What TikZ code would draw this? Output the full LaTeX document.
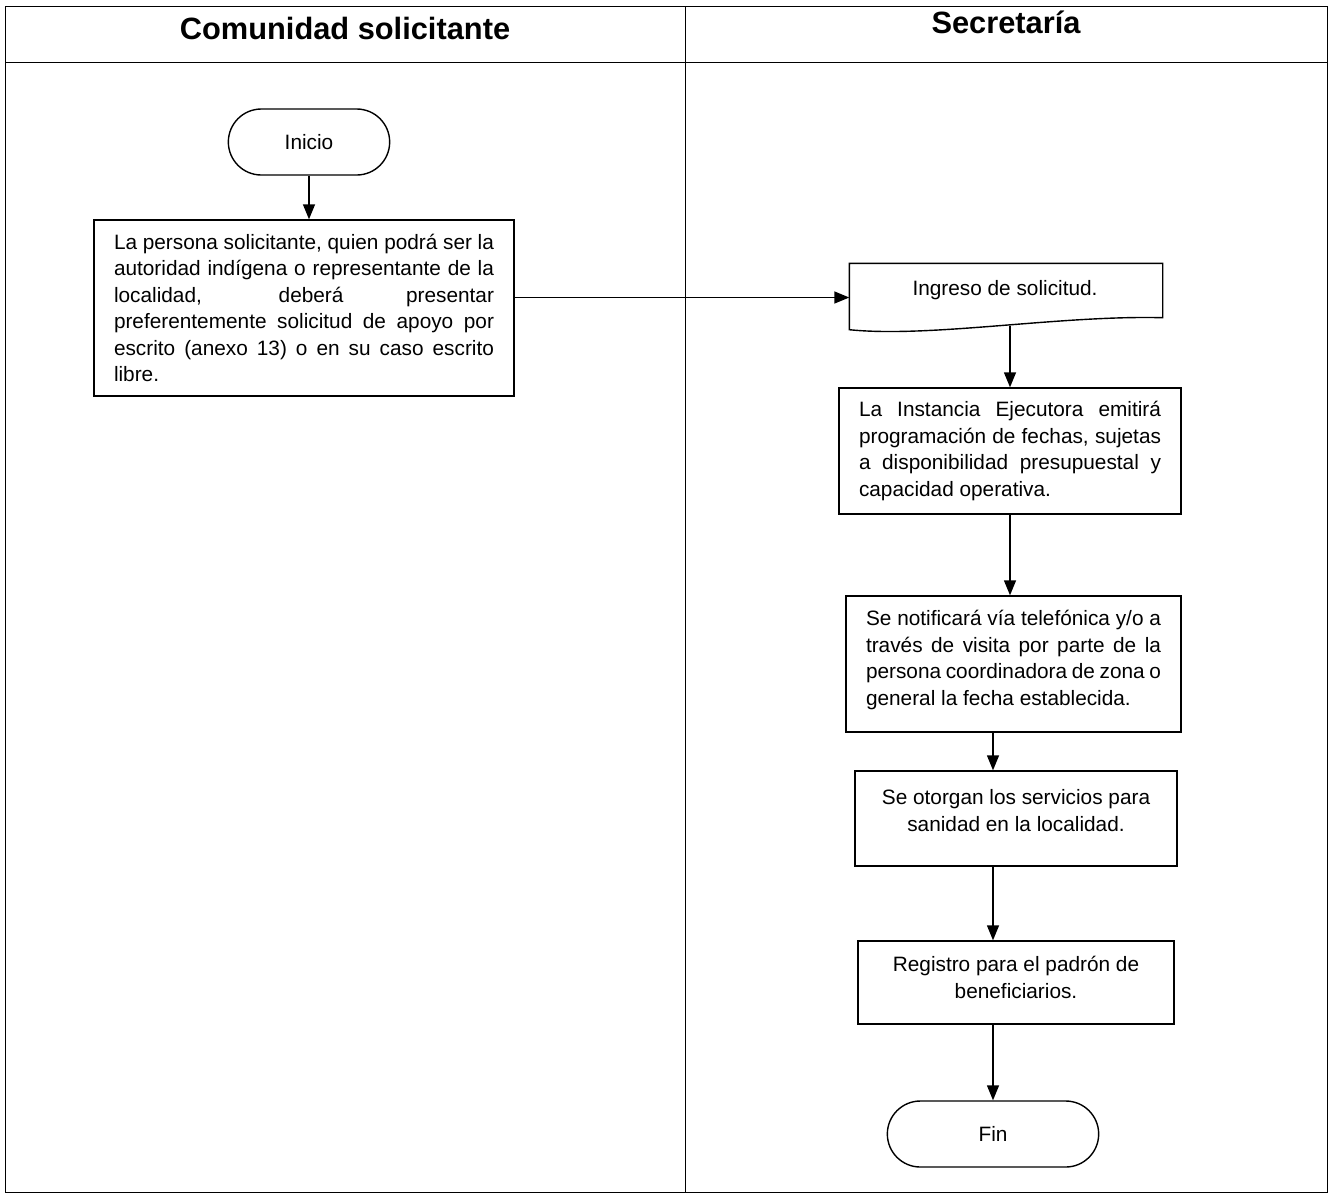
\documentclass[tikz,border=0pt]{standalone}
\usepackage{fontspec}
\setmainfont{Liberation Sans}
\usetikzlibrary{arrows.meta,shapes.misc,positioning}
\hbadness=10000

\begin{document}
\begin{tikzpicture}[x=1pt,y=-1pt,->,>={Triangle[length=15pt,width=12pt]},
                    line width=1.4pt,
                    every node/.style={font=\fontsize{20.8}{26.4}\selectfont},
                    box/.style={draw,rectangle,inner xsep=20pt,inner ysep=0pt,align=justify},
                    lane/.style={font=\fontsize{30.8}{32}\bfseries}]
  \tikzstyle{term}=[draw,rounded rectangle,minimum height=66pt]

  \useasboundingbox (0,0) rectangle (1330,1195);

  % carriles
  \draw[-,line width=1pt] (5,6) rectangle (1327,1192);
  \draw[-,line width=1pt] (5,62) -- (1327,62);
  \draw[-,line width=1pt] (685,6) -- (685,1192);
  \node[lane] (l_1) at (345,28) {Comunidad solicitante};
  \node[lane] (l_2) at (1006,22) {Secretaría};

  \node[term,minimum width=168pt] (ini) at (309,142) {Inicio};
  \node[box,text width=380pt,minimum height=176pt] (p_1) at (304,308)
    {La persona solicitante, quien podrá ser la\linebreak
     autoridad indígena o representante de la\linebreak
     localidad, deberá presentar\linebreak
     preferentemente solicitud de apoyo por\linebreak
     escrito (anexo 13) o en su caso escrito\linebreak
     libre.};

  % documento
  \node[minimum width=312pt,minimum height=67pt,inner sep=0pt] (doc) at (1006,297.5) {};
  \node (doc_t) at (1005,290) {Ingreso de solicitud.};
  \draw[-,line join=miter] ([yshift=2pt]doc.south west) -- (doc.north west) -- (doc.north east)
           -- ([yshift=14pt]doc.south east)
           .. controls (1060,315) and (930,338) .. ([yshift=2pt]doc.south west) -- cycle;

  \node[box,text width=302pt,minimum height=126pt] (p_2) at (1010,451)
    {La Instancia Ejecutora emitirá\linebreak
     programación de fechas, sujetas\linebreak
     a disponibilidad presupuestal y\linebreak
     capacidad operativa.};
  \node[box,text width=295pt,minimum height=136pt] (p_3) at (1013.5,664)
    {Se notificará vía telefónica y/o a\linebreak
     través de visita por parte de la\linebreak
     persona coordinadora de zona o\linebreak
     general la fecha establecida.\vspace{8pt}};
  \node[box,align=center,minimum width=322pt,minimum height=95pt] (p_4) at (1016,818.5)
    {Se otorgan los servicios para\\ sanidad en la localidad.\\[-10pt]\mbox{}};
  \node[box,align=center,minimum width=316pt,minimum height=83pt] (p_5) at (1016,982.5)
    {Registro para el padrón de\\ beneficiarios.\\[-16pt]\mbox{}};
  \node[term,minimum width=218pt] (fin) at (993,1134) {Fin};

  \draw (ini.south) -- (ini.south |- p_1.north);
  \draw (p_1.east |- doc.west) -- (doc.west);
  \draw ([yshift=6pt]p_2.north |- doc.south) -- (p_2.north);
  \draw (p_2.south) -- (p_2.south |- p_3.north);
  \draw (p_3.south -| fin) -- (p_4.north -| fin);
  \draw (p_4.south -| fin) -- (p_5.north -| fin);
  \draw (p_5.south -| fin) -- (fin.north);
\end{tikzpicture}
\end{document}
